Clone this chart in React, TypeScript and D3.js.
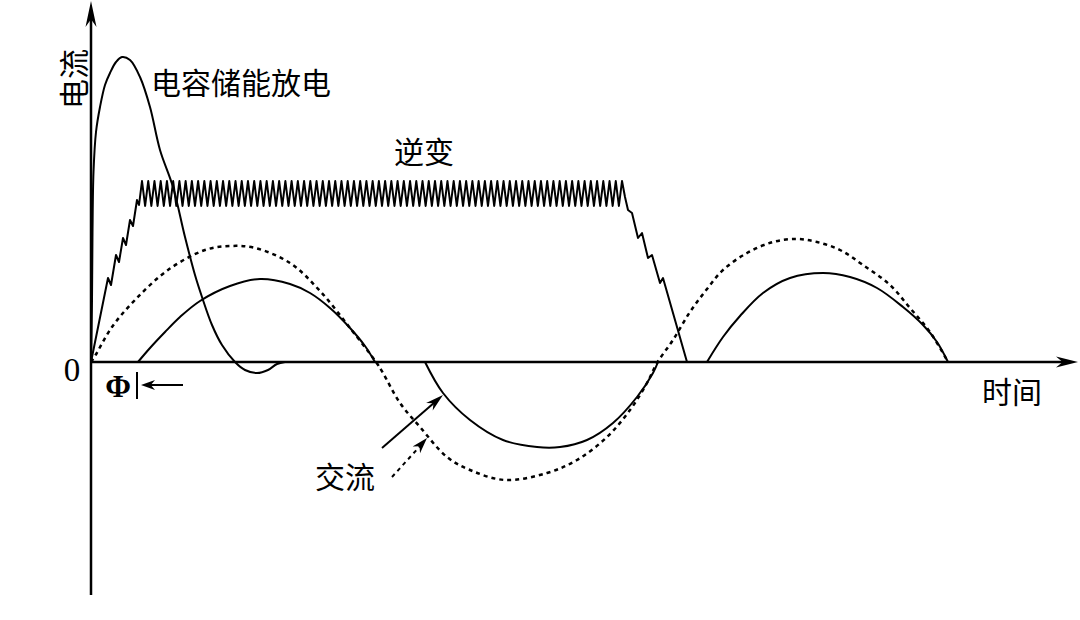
import React from "react";
import * as d3 from "d3";

const W = 1080;
const H = 620;

// time in arbitrary units, current in arbitrary units
const timeMax = 98.7;
const currentMin = -23.3;
const currentMax = 36.2;

// capacitor discharge pulse
const dischargeT = [0, 0.1, 0.15, 0.25, 0.5, 0.9, 1.4, 1.9, 2.5, 3.1, 3.9, 4.9, 5.9, 6.9, 8.2, 9.4, 10.4, 11.1, 12.1, 13.1, 14.4, 15.4, 16.6, 17.7, 18.6, 19.4];
const dischargeI = [0, 6.2, 12.9, 19.0, 23.0, 25.5, 27.7, 28.9, 30, 30.5, 30.2, 28.5, 25.5, 21.2, 17.5, 12.5, 8.7, 6.5, 3.7, 1.7, 0, -0.8, -1.1, -0.8, -0.2, 0];

// inverter: ramp up, ripple plateau, ramp down
const invRiseT = [0, 1.7, 2.0, 2.5, 2.8, 3.2, 3.5, 3.9, 4.2, 4.6, 4.8, 5.1];
const invRiseI = [0, 8.4, 7.7, 10.7, 10.0, 12.4, 11.7, 14.2, 13.6, 16.2, 15.7, 18.1];
const rippleStart = 5.1;
const rippleEnd = 53.1;
const rippleHigh = 18.1;
const rippleLow = 15.6;
const rippleCycles = 77;
const invFallT = [53.1, 53.4, 53.7, 54.1, 54.7, 55.1, 55.7, 56.1, 56.9, 57.2, 59.6];
const invFallI = [18.1, 16.5, 15.2, 14.9, 12.4, 12.9, 10.4, 10.7, 7.9, 8.4, 0];

// AC source (dashed)
const acSourceT = [0, 0.4, 2.1, 4.4, 7.7, 11.4, 13.9, 16.4, 19.9, 22.9, 25.9, 28.5, 29.2, 30.9, 32.9, 35.6, 37.9, 41.4, 45.6, 48.6, 51.6, 53.9, 55.6, 56.6, 58.2, 59.9, 61.6, 63.2, 65.6, 68.2, 70.6, 72.6, 74.9, 77.2, 79.9, 81.9, 83.9, 85.7];
const acSourceI = [0, 0.6, 3.5, 6.2, 9.2, 11.2, 11.6, 11.4, 9.9, 7.1, 3.4, 0, -1.1, -4.1, -6.5, -9.5, -10.8, -11.8, -11.1, -9.8, -7.5, -4.8, -2.1, -0.1, 2.2, 5.0, 7.3, 9.2, 10.9, 12.0, 12.3, 12.0, 11.2, 9.7, 7.7, 5.4, 3.0, 0];

// AC current (solid), three conducting lobes
const acLobe1T = [4.7, 5.9, 7.4, 8.9, 10.9, 13.9, 16.9, 19.9, 21.9, 23.9, 25.9, 27.4, 28.4];
const acLobe1I = [0, 1.4, 3.0, 4.5, 6.1, 7.6, 8.3, 7.8, 6.9, 5.4, 3.4, 1.6, 0];
const acLobe2T = [33.4, 35.2, 37.9, 41.2, 44.6, 46.9, 49.6, 52.2, 54.6, 56.2, 56.7];
const acLobe2I = [0, -3.1, -5.8, -7.8, -8.5, -8.5, -7.8, -6.1, -3.5, -1.1, 0];
const acLobe3T = [61.6, 63.2, 64.9, 67.2, 69.9, 73.2, 75.9, 78.6, 81.2, 83.2, 84.6, 85.7];
const acLobe3I = [0, 2.5, 4.6, 6.9, 8.4, 8.9, 8.5, 7.4, 5.5, 3.7, 2.0, 0];

const zip = (ts: number[], is: number[]): [number, number][] => ts.map((t, k) => [t, is[k]]);

const cjk = "'Noto Sans CJK SC', 'Noto Sans', sans-serif";
const serif = "'Liberation Serif', 'DejaVu Serif', serif";

export default function App() {
  const x = d3.scaleLinear().domain([0, timeMax]).range([91, 1078]);
  const y = d3.scaleLinear().domain([currentMin, currentMax]).range([595, 0]);

  const curve = d3
    .line<[number, number]>()
    .x((d) => x(d[0]))
    .y((d) => y(d[1]))
    .curve(d3.curveCatmullRom.alpha(0.5));
  const straight = d3
    .line<[number, number]>()
    .x((d) => x(d[0]))
    .y((d) => y(d[1]));

  // ripple teeth on the inverter plateau
  const ripple: [number, number][] = d3.range(1, rippleCycles * 2 + 1).map((k) => [
    rippleStart + (k * (rippleEnd - rippleStart)) / (rippleCycles * 2),
    k % 2 === 0 ? rippleHigh : rippleLow,
  ]);
  const inverter = [...zip(invRiseT, invRiseI), ...ripple, ...zip(invFallT, invFallI).slice(1)];

  const x0 = x(0);
  const y0 = y(0);
  const xEnd = x(timeMax);
  const yTop = y(currentMax);
  const yBot = y(currentMin);

  const arrowHead = (tx: number, ty: number, angle: number, len: number, half: number) => {
    const c = Math.cos(angle), s = Math.sin(angle);
    const p = (a: number, b: number) => `${tx + a * c - b * s},${ty + a * s + b * c}`;
    return `M${p(0, 0)}L${p(-len, half)}L${p(-len * 0.7, 0)}L${p(-len, -half)}Z`;
  };

  const a1 = Math.atan2(395 - 448, 443 - 382);
  const a2 = Math.atan2(438 - 477, 427 - 392);

  return (
    <svg
      width={W}
      height={H}
      viewBox={`0 0 ${W} ${H}`}
      style={{ position: "fixed", left: 0, top: 0, background: "#fff" }}
    >
      <g fill="none" stroke="#000" strokeLinejoin="round">
        {/* axes */}
        <line x1={x0} y1={yBot} x2={x0} y2={yTop + 10} strokeWidth={2.5} />
        <line x1={x0} y1={y0} x2={xEnd - 10} y2={y0} strokeWidth={2.5} />

        <path d={curve(zip(dischargeT, dischargeI)) || ""} strokeWidth={2} />
        <path d={straight(inverter) || ""} strokeWidth={2} />
        <path d={curve(zip(acSourceT, acSourceI)) || ""} strokeWidth={2.5} strokeDasharray="4 4" />
        <path d={curve(zip(acLobe1T, acLobe1I)) || ""} strokeWidth={2} />
        <path d={curve(zip(acLobe2T, acLobe2I)) || ""} strokeWidth={2} />
        <path d={curve(zip(acLobe3T, acLobe3I)) || ""} strokeWidth={2} />

        {/* phase marker */}
        <line x1={137} y1={372} x2={137} y2={399} strokeWidth={2} />
        <line x1={183} y1={385} x2={150} y2={385} strokeWidth={2} />

        {/* pointer arrows to AC curves */}
        <line x1={382} y1={448} x2={435} y2={402} strokeWidth={2} />
        <line x1={392} y1={477} x2={421} y2={445} strokeWidth={2} strokeDasharray="4 4" />
      </g>

      <g fill="#000">
        <path d={arrowHead(x0, yTop + 1, -Math.PI / 2, 26, 5.5)} />
        <path d={arrowHead(xEnd, y0, 0, 22, 5.5)} />
        <path d={arrowHead(141, 385, Math.PI, 14, 5)} />
        <path d={arrowHead(443, 395, a1, 18, 5)} />
        <path d={arrowHead(427, 438, a2, 16, 5)} />
      </g>

      <g fontFamily={cjk} fontSize={30} fill="#000" dominantBaseline="central">
        <text x={72} y={79} textAnchor="middle" transform="rotate(-90 72 79)">电流</text>
        <text x={151} y={81}>电容储能放电</text>
        <text x={424} y={150} textAnchor="middle">逆变</text>
        <text x={1012} y={390} textAnchor="middle">时间</text>
        <text x={345} y={475} textAnchor="middle">交流</text>
      </g>
      <g fontFamily={serif} fill="#000" dominantBaseline="central">
        <text x={72} y={370} textAnchor="middle" fontSize={33}>0</text>
        <text x={118} y={386} textAnchor="middle" fontSize={31} fontWeight="bold">Φ</text>
      </g>
    </svg>
  );
}
